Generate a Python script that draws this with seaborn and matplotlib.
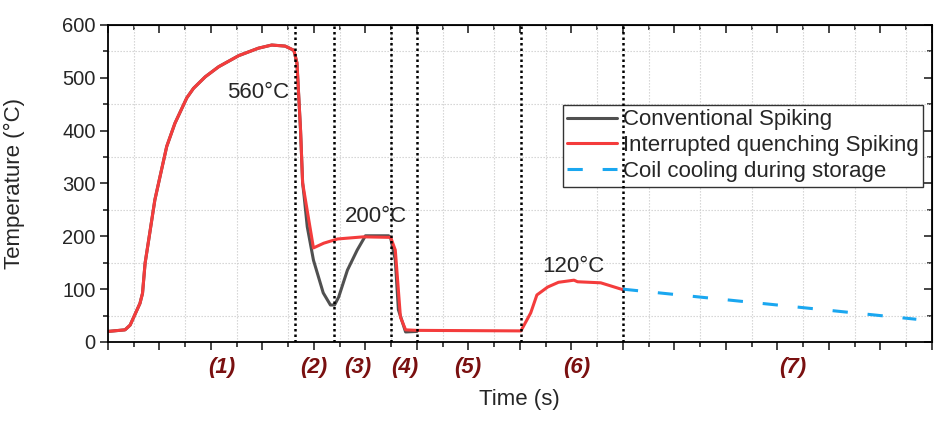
import numpy as np
import pandas as pd
import matplotlib
matplotlib.use('Agg')
import matplotlib.pyplot as plt
import matplotlib.transforms as mtransforms
import seaborn as sns

sns.set_style('ticks')
plt.rcParams['font.family'] = ['Liberation Sans', 'DejaVu Sans']

# Interrupted quenching spiking (red)
red_t = [0.0, 0.33, 0.43, 0.62, 0.67, 0.72, 0.82, 0.91, 1.01, 1.14, 1.30, 1.53, 1.66,
         1.89, 2.15, 2.54, 2.92, 3.18, 3.44, 3.61, 3.67, 3.74, 3.78, 3.99, 4.19,
         4.46, 4.96, 5.49, 5.58, 5.64, 5.68, 5.78, 6.0, 8.02, 8.21, 8.33, 8.54,
         8.75, 9.05, 9.12, 9.57, 9.77, 10.0]
red_T = [20, 23, 32, 73, 92, 149, 212, 269, 313, 370, 414, 462, 480,
         502, 521, 542, 556, 562, 560, 552, 528, 400, 301, 178, 187,
         195, 199, 198, 174, 98, 47, 23, 22, 21, 55, 89, 104,
         113, 117, 114, 112, 106, 99]

# Conventional spiking (gray)
gray_t = [0.0, 0.33, 0.43, 0.62, 0.67, 0.72, 0.82, 0.91, 1.01, 1.14, 1.30, 1.53, 1.66,
          1.89, 2.15, 2.54, 2.92, 3.18, 3.44, 3.61, 3.67, 3.74, 3.78, 3.81, 3.87,
          3.99, 4.18, 4.32, 4.40, 4.48, 4.65, 4.84, 5.0, 5.45, 5.49, 5.58, 5.64,
          5.78, 6.0]
gray_T = [20, 23, 32, 73, 92, 149, 212, 269, 313, 370, 414, 462, 480,
          502, 521, 542, 556, 562, 560, 552, 528, 400, 301, 275, 218,
          155, 93, 70, 70, 85, 136, 174, 201, 201, 197, 155, 61,
          19, 20]

# Coil cooling during storage (blue dashed)
blue_t = [10.0, 11.0, 12.0, 13.0, 14.0, 15.0, 15.7]
blue_T = [100, 90, 80, 70, 60, 50, 43]

stage_lines = [3.64, 4.38, 5.5, 6.0, 8.02, 10.0]
stage_labels = ['(1)', '(2)', '(3)', '(4)', '(5)', '(6)', '(7)']
stage_pos = [2.2, 4.0, 4.86, 5.76, 6.98, 9.1, 13.3]

annotations = [('560°C', 2.91, 473), ('200°C', 5.21, 237), ('120°C', 9.03, 142)]

fs = 16
fig = plt.figure(figsize=(9.45, 4.23), dpi=100)
ax = fig.add_axes([0.1143, 0.1915, 0.8717, 0.7495])

gray_df = pd.DataFrame({'t': gray_t, 'T': gray_T})
red_df = pd.DataFrame({'t': red_t, 'T': red_T})
blue_df = pd.DataFrame({'t': blue_t, 'T': blue_T})

sns.lineplot(data=gray_df, x='t', y='T', ax=ax, color='#505050', lw=2.2,
             estimator=None, sort=False, label='Conventional Spiking')
sns.lineplot(data=red_df, x='t', y='T', ax=ax, color='#f43c3c', lw=2.2,
             estimator=None, sort=False, label='Interrupted quenching Spiking')
sns.lineplot(data=blue_df, x='t', y='T', ax=ax, color='#1aa7f0', lw=2.2,
             estimator=None, sort=False, label='Coil cooling during storage')
ax.lines[-1].set_dashes((5, 6.5))

for xv in stage_lines:
    ax.axvline(xv, color='black', ls=(0, (1, 1.2)), lw=1.8, zorder=6)

ax.set_xlim(0, 16)
ax.set_ylim(0, 600)
ax.set_xticks(np.arange(0, 17, 1))
ax.set_xticks(np.arange(0.5, 16, 1), minor=True)
ax.set_xticklabels([])
ax.set_yticks(np.arange(0, 601, 100))
ax.set_yticks(np.arange(50, 600, 100), minor=True)
ax.tick_params(axis='y', labelsize=14.5, direction='out', length=6, width=1.2, pad=3)
ax.tick_params(axis='y', which='minor', length=3.5, width=1.2)
ax.tick_params(axis='x', direction='out', length=6, width=1.2)
ax.tick_params(axis='x', which='minor', length=3.5, width=1.2)
ax.grid(False)
ax.grid(which='minor', color='#cfcfcf', ls=(0, (1.2, 1.5)), lw=0.8)

for sp in ax.spines.values():
    sp.set_visible(True)
    sp.set_linewidth(1.3)
    sp.set_color('black')

top = ax.secondary_xaxis('top')
top.set_xticks(np.arange(0, 17, 1))
top.set_xticks(np.arange(0.5, 16, 1), minor=True)
top.set_xticklabels([])
top.tick_params(direction='in', length=6, width=1.2)
top.tick_params(which='minor', direction='in', length=3.5, width=1.2)
right = ax.secondary_yaxis('right')
right.set_yticks(np.arange(0, 601, 100))
right.set_yticks(np.arange(50, 600, 100), minor=True)
right.set_yticklabels([])
right.tick_params(direction='in', length=6, width=1.2)
right.tick_params(which='minor', direction='in', length=3.5, width=1.2)

ax.set_xlabel('Time (s)', fontsize=fs)
ax.set_ylabel('Temperature (°C)', fontsize=fs)
ax.xaxis.set_label_coords(0.499, -0.18)
ax.xaxis.label.set_va('center')
ax.yaxis.set_label_coords(-0.113, 0.5)
ax.yaxis.label.set_va('center')

trans = mtransforms.blended_transform_factory(ax.transData, ax.transAxes)
for lab, xp in zip(stage_labels, stage_pos):
    ax.text(xp, -0.079, lab, transform=trans, ha='center', va='center',
            fontsize=fs, fontweight='bold', fontstyle='italic', color='#7a1010')

for txt, xp, yp in annotations:
    ax.text(xp, yp, txt, ha='center', va='center', fontsize=fs, zorder=7)

leg = ax.legend(loc='upper left', bbox_to_anchor=(0.552, 0.748), borderaxespad=0,
                fontsize=fs, frameon=True, fancybox=False, handlelength=2.25,
                handletextpad=0.25, labelspacing=0.22, borderpad=0.2)
leg.get_frame().set_edgecolor('#333333')
leg.get_frame().set_linewidth(1.0)
leg.get_frame().set_facecolor('white')
leg.get_frame().set_alpha(1)
leg.set_zorder(5)

fig.savefig('out.png', dpi=100)
